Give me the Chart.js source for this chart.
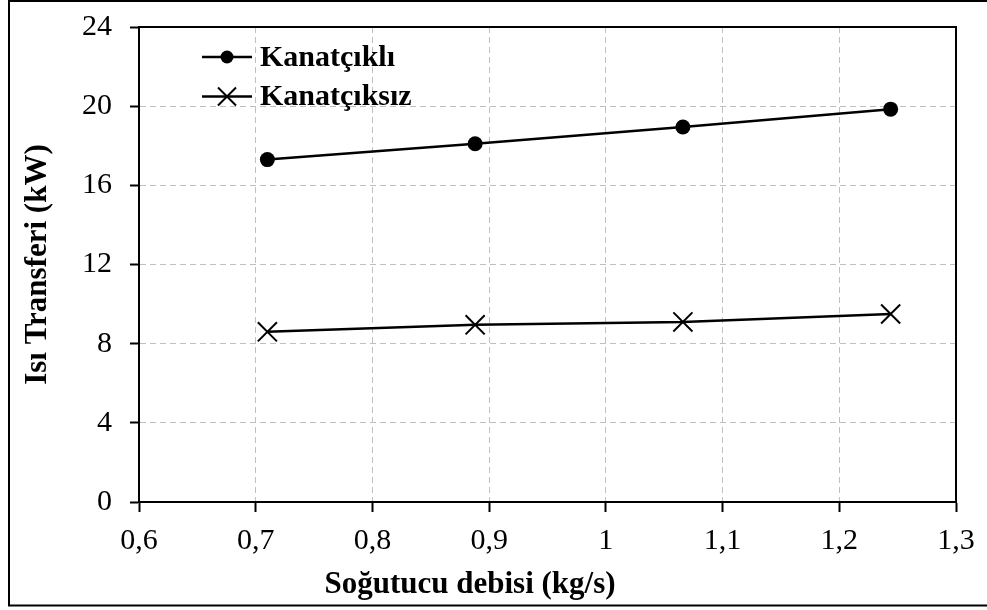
<!DOCTYPE html>
<html>
<head>
<meta charset="utf-8">
<script src="https://cdn.jsdelivr.net/npm/chart.js@4/dist/chart.umd.min.js"></script>
<style>
  html, body { margin: 0; padding: 0; background: #fff; }
  #wrap { width: 987px; height: 610px; position: relative; }
</style>
</head>
<body>
<div id="wrap"><canvas id="myChart" width="987" height="610"></canvas></div>
<script>
  const flow = [0.71, 0.888, 1.066, 1.244];
  const finned = [17.3, 18.1, 18.95, 19.85];
  const unfinned = [8.6, 8.95, 9.1, 9.5];
  const seriesNames = ['Kanatçıklı', 'Kanatçıksız'];
  const xTitle = 'Soğutucu debisi (kg/s)';
  const yTitle = 'Isı Transferi (kW)';

  const serif = "'Liberation Serif', 'Times New Roman', serif";

  function pts(ys) {
    return flow.map(function(x, i) { return { x: x, y: ys[i] }; });
  }

  // outer frame, plot frame, x title, legend
  const extras = {
    id: 'extras',
    afterDraw(chart) {
      const ctx = chart.ctx;
      const a = chart.chartArea;
      ctx.save();
      ctx.strokeStyle = '#000';
      ctx.lineWidth = 2;
      ctx.strokeRect(9, 1, 990, 604.5);
      ctx.strokeRect(a.left, a.top, a.right - a.left, a.bottom - a.top);

      ctx.fillStyle = '#000';
      ctx.font = 'bold 31px ' + serif;
      ctx.textAlign = 'center';
      ctx.textBaseline = 'middle';
      ctx.fillText(xTitle, 470, 585);

      ctx.font = 'bold 30px ' + serif;
      chart.data.datasets.forEach(function(ds, i) {
        const y = 57 + i * 39.5;
        ctx.lineWidth = 2.5;
        ctx.beginPath();
        ctx.moveTo(202, y);
        ctx.lineTo(252, y);
        ctx.stroke();
        if (ds.pointStyle === 'circle') {
          ctx.beginPath();
          ctx.arc(227, y, 6.5, 0, Math.PI * 2);
          ctx.fill();
        } else {
          ctx.lineWidth = 2;
          ctx.beginPath();
          ctx.moveTo(218, y - 9); ctx.lineTo(236, y + 9);
          ctx.moveTo(218, y + 9); ctx.lineTo(236, y - 9);
          ctx.stroke();
        }
        ctx.textAlign = 'left';
        ctx.fillText(ds.label, 260, y + 1);
      });
      ctx.restore();
    }
  };

  const data = {
    datasets: [{
      label: seriesNames[0],
      data: pts(finned),
      borderColor: '#000',
      backgroundColor: '#000',
      borderWidth: 2.5,
      pointStyle: 'circle',
      pointRadius: 7.5,
      pointBorderWidth: 0,
      pointBackgroundColor: '#000'
    }, {
      label: seriesNames[1],
      data: pts(unfinned),
      borderColor: '#000',
      backgroundColor: '#000',
      borderWidth: 2.5,
      pointStyle: 'crossRot',
      pointRadius: 13.5,
      pointBorderWidth: 2,
      pointBorderColor: '#000'
    }]
  };

  const config = {
    type: 'line',
    data,
    options: {
      responsive: false,
      animation: false,
      layout: { padding: { left: 19, top: 27, right: 31, bottom: 0 } },
      plugins: {
        legend: { display: false },
        tooltip: { enabled: false }
      },
      scales: {
        x: {
          type: 'linear',
          min: 0.6,
          max: 1.3,
          afterBuildTicks: function(scale) {
            const t = [];
            for (let i = 6; i <= 13; i++) t.push({ value: i / 10 });
            scale.ticks = t;
          },
          afterFit: function(scale) { scale.height = 108; },
          ticks: {
            color: '#000',
            padding: 11,
            maxRotation: 0,
            font: { family: serif, size: 30 },
            callback: function(v) { return String(Math.round(v * 10) / 10).replace('.', ','); }
          },
          grid: {
            color: '#bfbfbf',
            lineWidth: 1,
            tickLength: 10,
            tickColor: '#000',
            tickWidth: 2,
            tickBorderDash: []
          },
          border: { display: true, color: '#000', width: 2, dash: [6, 4] }
        },
        y: {
          min: 0,
          max: 24,
          afterFit: function(scale) {
            scale.width = 120;
            scale.paddingTop = 0;
            scale.paddingBottom = 0;
          },
          ticks: {
            stepSize: 4,
            color: '#000',
            padding: 18,
            font: { family: serif, size: 30 }
          },
          grid: {
            color: '#bfbfbf',
            lineWidth: 1,
            tickLength: 9,
            tickColor: '#000',
            tickWidth: 2,
            tickBorderDash: []
          },
          border: { display: true, color: '#000', width: 2, dash: [6, 4] },
          title: {
            display: true,
            text: yTitle,
            color: '#000',
            padding: { top: 0, bottom: 0 },
            font: { family: serif, size: 31, weight: 'bold' }
          }
        }
      }
    },
    plugins: [extras]
  };

  var myChart = new Chart(document.getElementById('myChart'), config);
</script>
</body>
</html>
